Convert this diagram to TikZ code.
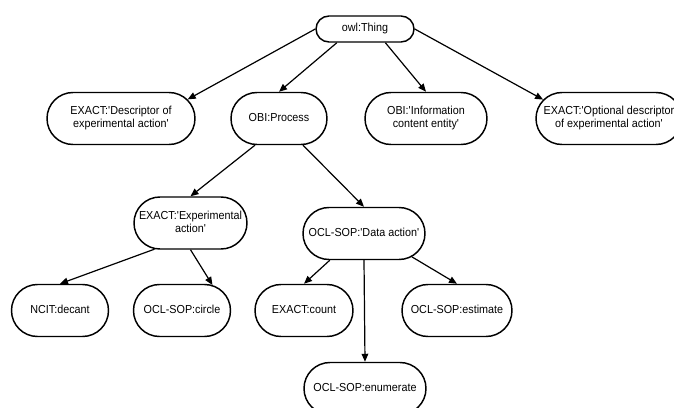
\documentclass[tikz,border=0pt]{standalone}
\usepackage{fontspec}
\setmainfont{Liberation Sans}[FakeStretch=0.93]
\usetikzlibrary{shapes.misc,arrows.meta}
\newcommand{\qt}{\textquotesingle}
\newcommand{\boxtext}[1]{\makebox[0pt]{\begin{tabular}{@{}c@{}}#1\end{tabular}}}
\tikzset{
  term/.style={rounded rectangle,draw,line width=1.1pt,minimum height=39pt,inner sep=0pt,
    font=\fontsize{8.7}{9.8}\selectfont},
  isa/.style={-{Triangle[length=6pt,width=5pt]},line width=0.9pt}
}

\begin{document}
\begin{tikzpicture}[x=0.75pt,y=-0.75pt]
\useasboundingbox (0,0) rectangle (674,407);
% root
\node[term,minimum height=19.5pt,minimum width=73.5pt] (thing) at (365,29) {\boxtext{owl:Thing}};
% second level
\foreach \n/\x/\w/\t in {desc/121/111/{EXACT:\qt Descriptor of\\experimental action\qt},
    proc/279/72/{OBI:Process},
    info/426/91.5/{OBI:\qt Information\\content entity\qt},
    opt/609/109.5/{EXACT:\qt Optional descriptor\\of experimental action\qt}}
  \node[term,minimum width=\w pt] (\n) at (\x,118.5) {\boxtext{\t}};
% processes
\node[term,minimum width=84.75pt] (exp) at (190.5,223) {\boxtext{EXACT:\qt Experimental\\action\qt}};
\node[term,minimum width=91.5pt] (data) at (364,233.5) {\boxtext{OCL-SOP:\qt Data action\qt}};
\foreach \n/\x/\w/\t in {decant/60/72.75/NCIT:decant, circ/182/72.75/OCL-SOP:circle,
    count/304/73.5/EXACT:count, est/457/82.5/OCL-SOP:estimate}
  \node[term,minimum width=\w pt] (\n) at (\x,310.5) {\boxtext{\t}};
\node[term,minimum width=91.5pt] (enum) at (365,388.5) {\boxtext{OCL-SOP:enumerate}};
% is-a links
\draw[isa] (thing.west) -- (desc.16);
\draw[isa] (thing.206) -- (proc.north);
\draw[isa] (thing.326) -- (info.north);
\draw[isa] (thing.east) -- (opt.164);
\draw[isa] (proc.228) -- (exp.north);
\draw[isa] (proc.312) -- (data.north);
\draw[isa] (exp.216) -- (decant.north);
\draw[isa] (exp.south) -- (circ.40);
\draw[isa] (data.218) -- (count.north);
\draw[isa] (data.south) -- (enum.north);
\draw[isa] (data.334) -- (est.north);
\end{tikzpicture}
\end{document}
